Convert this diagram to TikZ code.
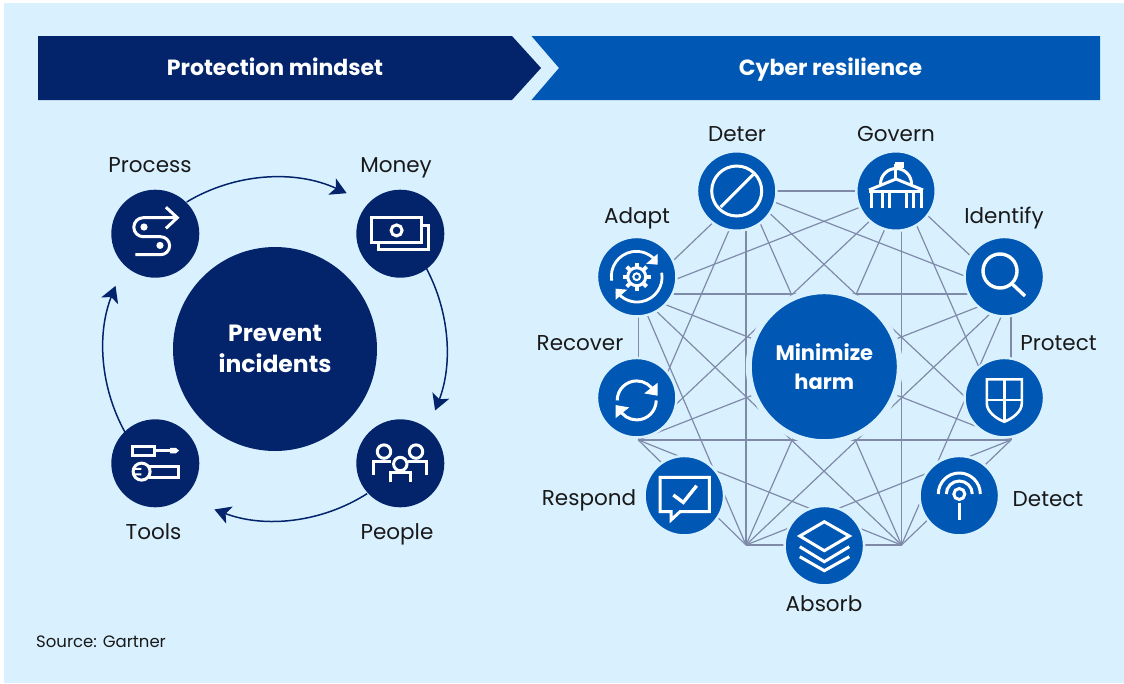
\documentclass[tikz,border=0pt]{standalone}
\usepackage{fontspec}
\setmainfont{Poppins}
\usetikzlibrary{arrows.meta}
\definecolor{bgc}{HTML}{D9F1FF}
\definecolor{navy}{HTML}{03246B}
\definecolor{azure}{HTML}{0057B4}
\definecolor{meshc}{HTML}{7F8AA8}
\tikzset{
  x=1pt,y=-1pt,
  lab/.style={font=\fontsize{21.5}{24}\selectfont,text=black!90,inner sep=0pt,anchor=base},
  barlab/.style={font=\fontsize{22}{24}\bfseries\selectfont,text=white,inner sep=0pt,anchor=base},
  big/.style={circle,inner sep=0pt,fill=navy,minimum size=#1,text=white,align=center},
  disc/.style={circle,inner sep=0pt,fill=navy,minimum size=88pt},
  hub/.style={circle,inner sep=0pt,fill=azure,draw=bgc,line width=2.5pt,minimum size=79.5pt},
  core/.style={circle,inner sep=0pt,fill=azure,draw=bgc,line width=6pt,minimum size=151pt,text=white,align=center},
  flowarc/.style={draw=navy,line width=1.5pt,-{Stealth[length=16pt,width=18pt,inset=4pt]}},
  mesh/.style={draw=meshc,line width=1.2pt},
  ic/.style={draw=white,line width=3pt,line join=miter}
}
\begin{document}
\begin{tikzpicture}
\useasboundingbox (0,0) rectangle (1124,683);
\fill[white] (0,0) rectangle (1124,683);
\fill[bgc] (4,3) rectangle (1124,683);
% header bars
\fill[navy] (38,36) -- (512,36) -- (541,68) -- (512,100) -- (38,100) -- cycle;
\fill[azure] (531.5,36) -- (1100,36) -- (1100,100) -- (531.5,100) -- (559,68) -- cycle;
\node[barlab] (h1) at (275,75) {Protection mindset};
\node[barlab] (h2) at (830.5,75) {Cyber resilience};
% mesh vertices
\coordinate (v1) at (746,191);
\coordinate (v2) at (901.5,191);
\coordinate (v3) at (1011,294);
\coordinate (v4) at (1011,440);
\coordinate (v5) at (901.5,545);
\coordinate (v6) at (746,545);
\coordinate (v7) at (638.3,440);
\coordinate (v8) at (638.3,294);
\foreach \i in {1,...,7}{
  \pgfmathtruncatemacro\nxt{\i+1}
  \foreach \j in {\nxt,...,8}{
    \draw[mesh] (v\i) -- (v\j);
  }
}
% left side
\node[big=204pt,font=\fontsize{23.5}{31}\bfseries\selectfont] (prevent) at (275,349) {Prevent\\incidents};
\node[disc] (process) at (155.3,233.7) {};
\node[disc] (money) at (400.3,233.7) {};
\node[disc] (tools) at (155.3,463.3) {};
\node[disc] (people) at (400.3,463.3) {};
\draw[flowarc] ([shift={(-121:171.5)}]prevent.center) arc[start angle=-121,end angle=-65.3,radius=171.5];
\draw[flowarc] ([shift={(-28:171.5)}]prevent.center) arc[start angle=-28,end angle=21,radius=171.5];
\draw[flowarc] ([shift={(57.5:171.5)}]prevent.center) arc[start angle=57.5,end angle=110.7,radius=171.5];
\draw[flowarc] ([shift={(151:171.5)}]prevent.center) arc[start angle=151,end angle=201.6,radius=171.5];
\node[lab] (lprocess) at (150,172) {Process};
\node[lab] (lmoney) at (396,172) {Money};
\node[lab] (ltools) at (153.5,539) {Tools};
\node[lab] (lpeople) at (397,539) {People};
% right side
\node[core,font=\fontsize{21}{29}\bfseries\selectfont] (minimize) at (824.3,366.7) {Minimize\\harm};
\node[hub] (deter) at (736.7,191) {};
\node[hub] (govern) at (896,191) {};
\node[hub] (identify) at (1004.3,276.7) {};
\node[hub] (protect) at (1004.3,397.7) {};
\node[hub] (detect) at (959.3,495.7) {};
\node[hub] (absorb) at (824.3,545.7) {};
\node[hub] (respond) at (684.3,495.7) {};
\node[hub] (recover) at (636.7,397.7) {};
\node[hub] (adapt) at (636.7,276.7) {};
\node[lab] (ldeter) at (737,141) {Deter};
\node[lab] (lgovern) at (896,141) {Govern};
\node[lab] (lidentify) at (1004,223) {Identify};
\node[lab] (ladapt) at (637,223) {Adapt};
\node[lab] (lrecover) at (580,350) {Recover};
\node[lab] (lprotect) at (1058.5,350) {Protect};
\node[lab] (lrespond) at (589,505) {Respond};
\node[lab] (ldetect) at (1048,506) {Detect};
\node[lab] (labsorb) at (824,611) {Absorb};
\node[anchor=base west,inner sep=0pt,text=black!90,font=\fontsize{16.5}{20}\selectfont] (src) at (36,647) {Source: Gartner};
% process icon
\begin{scope}[shift={(process.center)}]
\draw[ic,line cap=butt] (22,-16) -- (-12,-16) arc[start angle=-90,end angle=-270,radius=9.5] -- (5.3,3) arc[start angle=-90,end angle=90,radius=9] -- (-20,21);
\draw[ic] (10.6,-26.5) -- (22,-16) -- (10.6,-5.3);
\fill[white] (-11.3,-6.7) circle[radius=3.6] (4.7,11.7) circle[radius=3.6];
\end{scope}
% money icon
\begin{scope}[shift={(money.center)}]
\draw[ic] (-28.7,-16) rectangle (21.3,8.7);
\draw[ic] (21.3,-8.7) -- (28.3,-8.7) -- (28.3,15.7) -- (-21.7,15.7) -- (-21.7,8.7);
\draw[ic] (-3.7,-3.3) circle[radius=5.5];
\end{scope}
% people icon
\begin{scope}[shift={(people.center)}]
\draw[ic] (-16.3,-11.7) circle[radius=6.7] (15.7,-11.7) circle[radius=6.7] (0,0.7) circle[radius=6.7];
\draw[ic] (-27,11.7) -- (-27,-2.3) -- (-9,-2.3);
\draw[ic] (26,11.7) -- (26,-2.3) -- (8,-2.3);
\draw[ic] (-10.3,19) -- (-10.3,9) -- (10.3,9) -- (10.3,19);
\end{scope}
% tools icon
\begin{scope}[shift={(tools.center)}]
\draw[ic] (-22.7,-17.3) rectangle (-1,-7.7);
\draw[ic] (-1,-12.7) -- (15,-12.7);
\fill[white] (14.7,-15.5) -- (20.5,-15.5) -- (23.7,-12.7) -- (20.5,-9.9) -- (14.7,-9.9) -- cycle;
\draw[ic] (-6.5,2.7) -- (23,2.7) -- (23,14) -- (-6.5,14);
\fill[navy] (-13.7,8.3) circle[radius=8];
\draw[ic] (-13.7,8.3) circle[radius=8.5];
\fill[white] (-22,4.5) rectangle (-14,6.6) (-22,10) rectangle (-14,12.1);
\end{scope}
% deter icon
\begin{scope}[shift={(deter.center)}]
\draw[ic] (0,0) circle[radius=25];
\draw[ic] (-16,16) -- (16.5,-16.5);
\end{scope}
% govern icon
\begin{scope}[shift={(govern.center)}]
\draw[ic] (-0.5,-12) -- (-0.5,-27);
\fill[white] (-1.5,-29) rectangle (7.5,-23);
\draw[ic] (-15.5,-7) arc[start angle=180,end angle=360,radius=15.5];
\draw[ic] (-27,-1) -- (0,-12) -- (27,-1);
\draw[ic] (-27,0) -- (27,0);
\foreach \cx in {-25,-14,-7,10,17,25}{
  \draw[ic] (\cx,0) -- (\cx,17);
}
\end{scope}
% identify icon
\begin{scope}[shift={(identify.center)}]
\draw[ic,line width=3.4pt] (-4.3,-5.7) circle[radius=17];
\draw[ic,line width=3.4pt] (7.3,6.7) -- (20.7,19.3);
\end{scope}
% protect icon
\begin{scope}[shift={(protect.center)}]
\draw[ic,line width=2.6pt] (-17.5,-18.3) -- (17.5,-18.3) -- (17.5,5.7) .. controls (17.5,14) and (8,21) .. (0,24) .. controls (-8,21) and (-17.5,14) .. (-17.5,5.7) -- cycle;
\draw[ic,line width=2.6pt] (0,-18.3) -- (0,24);
\draw[ic,line width=2.6pt] (-17.5,2.3) -- (17.5,2.3);
\end{scope}
% detect icon
\begin{scope}[shift={(detect.center)}]
\draw[ic] (0,7.7) -- (0,24.3);
\draw[ic] (0,-1.7) circle[radius=5.5];
\draw[ic] (-21,-1.7) arc[start angle=180,end angle=360,radius=21];
\draw[ic] (-13,-1.7) arc[start angle=180,end angle=360,radius=13];
\end{scope}
% absorb icon
\begin{scope}[shift={(absorb.center)}]
\draw[ic] (-24.5,-9.7) -- (0,-24) -- (25,-9.7) -- (0,5) -- cycle;
\draw[ic] (-24.5,1) -- (0,16) -- (25,1);
\draw[ic] (-24.5,11) -- (0,25) -- (25,11);
\end{scope}
% respond icon
\begin{scope}[shift={(respond.center)}]
\draw[ic] (-24.3,-18.3) -- (25,-18.3) -- (25,16) -- (-4.3,16) -- (-13.3,24.3) -- (-13.3,16) -- (-24.3,16) -- cycle;
\draw[ic,line width=3.4pt] (-11,-0.7) -- (-1,6.7) -- (12.3,-10);
\end{scope}
% recover icon
\begin{scope}[shift={(recover.center)}]
\draw[ic] (-19.5,2.7) arc[start angle=180,end angle=335,radius=19.5];
\draw[ic] (19.5,2.7) arc[start angle=0,end angle=155,radius=19.5];
\fill[white] (21,-15) -- (21,-2) -- (7.5,-4.3) -- cycle;
\fill[white] (-21,20.4) -- (-21,7.4) -- (-7.5,9.7) -- cycle;
\end{scope}
% adapt icon
\begin{scope}[shift={(adapt.center)}]
\draw[ic,line width=2.8pt] (-25,4) arc[start angle=170,end angle=325,radius=25];
\draw[ic,line width=2.8pt] (25,-4) arc[start angle=-10,end angle=145,radius=25];
\fill[white] (21,-23) -- (21,-12) -- (9.5,-13) -- cycle;
\fill[white] (-21,23) -- (-21,12) -- (-9.5,13) -- cycle;
\draw[ic] (0,0) circle[radius=9];
\foreach \a in {0,45,...,315}{
  \draw[ic,line width=4pt] (\a:9) -- (\a:14);
}
\draw[ic,line width=2pt] (0,0) circle[radius=3.4];
\end{scope}
\end{tikzpicture}
\end{document}
